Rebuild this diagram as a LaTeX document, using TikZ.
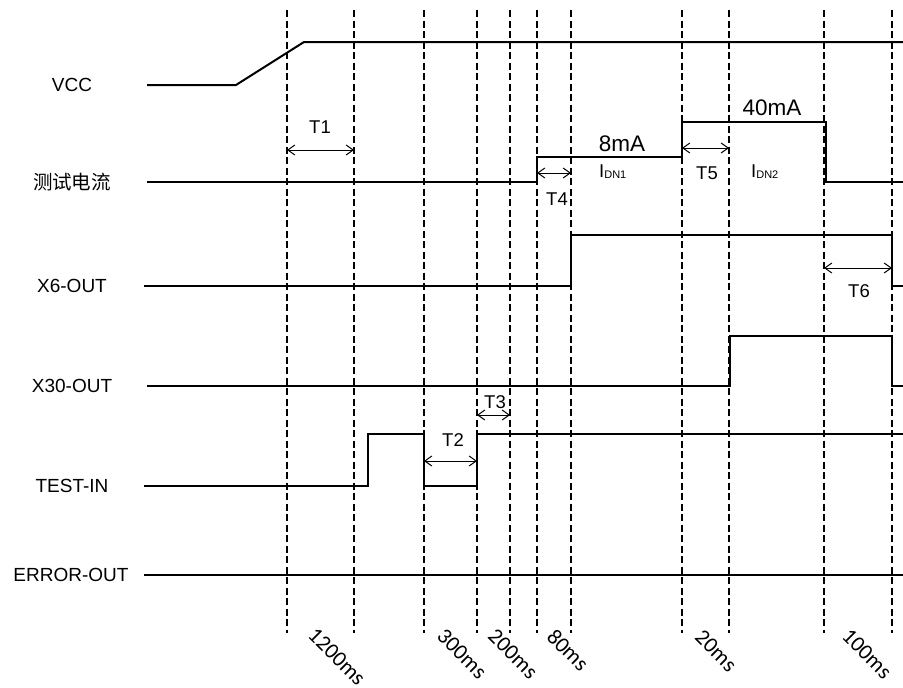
\documentclass[tikz,border=0pt]{standalone}
\usepackage{fontspec}
\setmainfont{Liberation Sans}
\newfontfamily\cjk{Noto Sans CJK SC}
\newfontfamily\calib{Carlito}
\usetikzlibrary{arrows.meta}
\begin{document}
\begin{tikzpicture}[x=1pt,y=-1pt,
  sig/.style={line width=2pt},
  gridline/.style={line width=1.6pt, dash pattern=on 7pt off 3.5pt},
  dim/.style={line width=1pt, {Straight Barb[length=7pt,width=10pt]}-{Straight Barb[length=7pt,width=10pt]}},
  lab/.style={font=\fontsize{19}{19}\selectfont, inner sep=0pt},
  tl/.style={font=\fontsize{18.5}{19}\selectfont, inner sep=0pt},
  ma/.style={font=\fontsize{22.5}{23}\selectfont, inner sep=0pt},
  ms/.style={font=\calib\fontsize{22}{22}\selectfont, rotate=-45, inner sep=0pt}]
\useasboundingbox (0,0) rectangle (903,688);
\fill[white] (0,0) rectangle (903,688);
% dashed timing grid
\foreach \x [count=\i] in {287,354,424,477,510,537,571,682,729,824,892} {
  \coordinate (g\i t) at (\x,10);
  \coordinate (g\i b) at (\x,633);
  \draw[gridline] (g\i t) -- (g\i b);
}
% signal names
\node[lab] (nvcc) at (72,85) {VCC};
\node[lab,font=\cjk\fontsize{19.5}{19.5}\selectfont] (ncur) at (72,182) {测试电流};
\node[lab] (nx6) at (72,286) {X6-OUT};
\node[lab] (nx30) at (72,386) {X30-OUT};
\node[lab] (ntest) at (72,486) {TEST-IN};
\node[lab] (nerr) at (71,575) {ERROR-OUT};
% waveforms
\draw[sig] (147,85) -- (236,85) -- (304,42) -- (903,42);
\draw[sig] (147,182) -- (537,182) -- (537,157) -- (682,157) -- (682,122) -- (826,122) -- (826,182) -- (903,182);
\draw[sig] (144,286) -- (571,286) -- (571,235) -- (892,235) -- (892,286) -- (903,286);
\draw[sig] (147,386) -- (730,386) -- (730,336) -- (892,336) -- (892,386) -- (903,386);
\draw[sig] (144,486) -- (368,486) -- (368,434) -- (424,434) -- (424,486) -- (477,486) -- (477,434) -- (903,434);
\draw[sig] (144,575) -- (903,575);
% interval arrows
\coordinate (a1l) at (287,150); \coordinate (a1r) at (354,150);
\draw[dim] (a1l) -- (a1r);
\node[tl] (t1) at (320,127) {T1};
\coordinate (a4l) at (537,173); \coordinate (a4r) at (571,173);
\draw[dim] (a4l) -- (a4r);
\node[tl] (t4) at (557,199) {T4};
\coordinate (a5l) at (682,148); \coordinate (a5r) at (729,148);
\draw[dim] (a5l) -- (a5r);
\node[tl] (t5) at (707,173) {T5};
\coordinate (a6l) at (824,268); \coordinate (a6r) at (892,268);
\draw[dim] (a6l) -- (a6r);
\node[tl] (t6) at (859,291) {T6};
\coordinate (a2l) at (424,461); \coordinate (a2r) at (477,461);
\draw[dim] (a2l) -- (a2r);
\node[tl] (t2) at (453,440) {T2};
\coordinate (a3l) at (477,415); \coordinate (a3r) at (510,415);
\draw[dim] (a3l) -- (a3r);
\node[tl] (t3) at (495,402) {T3};
% current values
\node[ma] (m8) at (622,144) {8mA};
\node[ma] (m40) at (772,108) {40mA};
\node[tl, anchor=base west] (idn1) at (599,177) {I\raisebox{-1.5pt}{\fontsize{11}{11}\selectfont DN1}};
\node[tl, anchor=base west] (idn2) at (751,177) {I\raisebox{-1.5pt}{\fontsize{11}{11}\selectfont DN2}};
% durations
\node[ms] (d1) at (337,657) {1200ms};
\node[ms] (d2) at (462,654) {300ms};
\node[ms] (d3) at (513,654) {200ms};
\node[ms] (d4) at (568,650) {80ms};
\node[ms] (d5) at (716,651) {20ms};
\node[ms] (d6) at (867,654) {100ms};
\end{tikzpicture}
\end{document}
